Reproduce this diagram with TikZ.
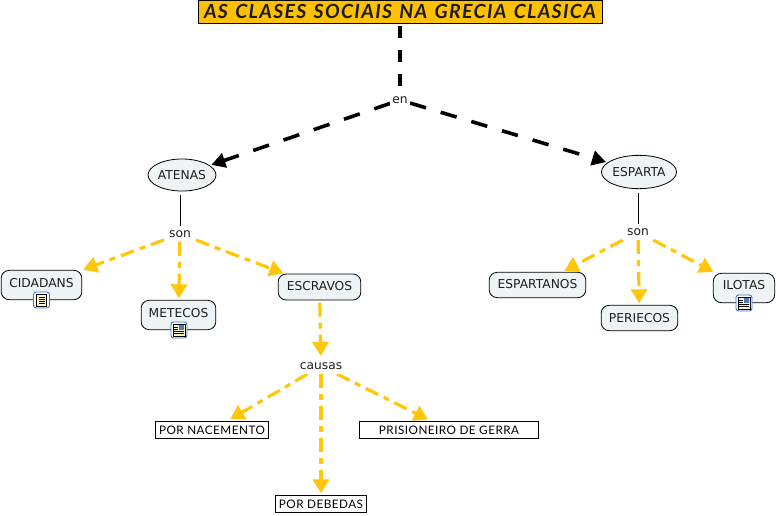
\documentclass[tikz,border=0pt]{standalone}
\usepackage{fontspec}
\setmainfont{DejaVu Sans}
\newfontfamily\comicfont[LetterSpace=4]{Lato}
\newfontfamily\titlefont[LetterSpace=6.8,WordSpace=1.3]{Lato}
\usetikzlibrary{arrows.meta,shapes.geometric,backgrounds}
\definecolor{cmfill}{RGB}{238,243,246}
\definecolor{cmyel}{RGB}{255,198,10}
\definecolor{cmtitle}{RGB}{255,192,0}
\definecolor{cmtext}{RGB}{30,30,30}
\definecolor{cmicon}{RGB}{60,120,205}
\definecolor{cmpage}{RGB}{255,250,195}
\tikzset{
  x=0.75pt,y=-0.75pt,
  every node/.style={font=\fontsize{9.2}{11}\selectfont,text=cmtext,inner sep=0pt,outer sep=0pt},
  ovalbox/.style={ellipse,draw=black,fill=cmfill,line width=0.6pt},
  roundbox/.style={rectangle,rounded corners=6pt,draw=black,fill=cmfill,line width=0.6pt},
  plainbox/.style={rectangle,draw=black,fill=white,line width=0.75pt,font=\comicfont\fontsize{8.8}{10}\selectfont,text=black},
  linklabel/.style={fill=white,minimum width=24pt,minimum height=12pt},
  linkblack/.style={draw=black,line width=2.7pt,dash pattern=on 12.5pt off 11.5pt,-{Triangle[length=10.5pt,width=11pt]},shorten >=1.5pt},
  linkyel/.style={draw=cmyel,line width=2.4pt,dash pattern=on 10.5pt off 4.5pt on 4.5pt off 4.5pt,-{Triangle[length=10.5pt,width=12pt]},shorten >=1.5pt},
  backoff/.style={shorten >=#1},
  linkthin/.style={draw=black,line width=0.6pt}
}
\newcommand{\docicon}[1]{%
  \begin{scope}[shift={#1}]
    \draw[cmicon,fill=white,line width=0.7pt,rounded corners=2pt] (-8,-8) rectangle (8,8);
    \draw[black,fill=cmpage,line width=0.5pt] (-5,-6) rectangle (5,6);
    \foreach \yy in {-3,-1,1,3}{\draw[black,line width=0.4pt] (-3,\yy) -- (3,\yy);}
  \end{scope}}
\newcommand{\imgicon}[1]{%
  \begin{scope}[shift={#1}]
    \draw[cmicon,fill=white,line width=0.7pt,rounded corners=2pt] (-8,-8) rectangle (8,8);
    \draw[black,fill=cmpage,line width=0.5pt] (-6,-6) rectangle (6,6);
    \fill[cmicon!70!gray] (0,-5) rectangle (5,0);
    \foreach \yy in {-3,-1}{\draw[black,line width=0.4pt] (-5,\yy) -- (-1,\yy);}
    \foreach \yy in {1.5,3.5}{\draw[black,line width=0.4pt] (-5,\yy) -- (5,\yy);}
  \end{scope}}
\begin{document}
\begin{tikzpicture}
\useasboundingbox (0,0) rectangle (776,515);
% nodes
\node[rectangle,draw=black,fill=cmtitle,line width=0.75pt,minimum width=303pt,minimum height=17pt,text height=12pt,text depth=1.6pt,
      font=\titlefont\bfseries\itshape\fontsize{14.6}{16}\selectfont,text=cmtext!90!black] (title) at (400,12) {AS CLASES SOCIAIS NA GRECIA CLASICA};
\node[fill=white,minimum width=15pt,minimum height=12pt] (en) at (400,100) {en};
\node[ovalbox,minimum width=48pt,minimum height=24pt] (atenas) at (182,175) {ATENAS};
\node[ovalbox,minimum width=54pt,minimum height=25pt] (esparta) at (639,172) {ESPARTA};
\node[linklabel] (sona) at (180,234) {son};
\node[linklabel] (sonb) at (638,232) {son};
\node[roundbox,minimum width=60.5pt,minimum height=22pt,text depth=3.6pt,text height=7pt] (cid) at (41.5,285) {CIDADANS};
\node[roundbox,minimum width=56pt,minimum height=22pt,text depth=3.6pt,text height=7pt] (met) at (178.5,315) {METECOS};
\node[roundbox,minimum width=62pt,minimum height=19.5pt,text depth=1.5pt,text height=7pt] (esc) at (319.5,287) {ESCRAVOS};
\node[roundbox,minimum width=72.5pt,minimum height=19pt,text depth=1.5pt,text height=7pt] (espa) at (537.5,285) {ESPARTANOS};
\node[roundbox,minimum width=57.5pt,minimum height=19pt] (per) at (639.5,318) {PERIECOS};
\node[roundbox,minimum width=46pt,minimum height=22pt,text depth=5pt,text height=7pt] (ilo) at (744,288) {ILOTAS};
\node[fill=white,minimum width=42pt,minimum height=12pt] (causas) at (321,366) {causas};
\node[plainbox,minimum width=84.5pt,minimum height=13pt] (nac) at (212,430) {POR NACEMENTO};
\node[plainbox,minimum width=134.5pt,minimum height=13pt] (pri) at (449,430) {PRISIONEIRO DE GERRA};
\node[plainbox,minimum width=68.5pt,minimum height=13pt] (deb) at (321,504) {POR DEBEDAS};
% connectors
\begin{pgfonlayer}{background}
\draw[draw=black,line width=2.7pt,dash pattern=on 9pt off 9pt,shorten <=2.2pt] (title) -- (en);
\draw[linkblack] (en) -- (atenas);
\draw[linkblack] (en) -- (esparta);
\draw[linkthin,shorten <=3pt] (atenas.south -| sona) -- (sona);
\draw[linkthin,shorten <=3pt] (esparta.south -| sonb) -- (sonb);
\draw[linkyel] (sona) -- (cid);
\draw[linkyel] (sona) -- (met);
\draw[linkyel] (sona) -- (esc);
\draw[linkyel,backoff=2.5pt] (sonb) -- (espa);
\draw[linkyel] (sonb) -- (per);
\draw[linkyel,backoff=2.5pt] (sonb) -- (ilo);
\draw[linkyel,shorten <=2pt] (esc) -- (causas);
\draw[linkyel,backoff=3pt] (causas) -- (nac);
\draw[linkyel,backoff=3pt] (causas) -- (pri);
\draw[linkyel] (causas) -- (deb);
\end{pgfonlayer}
% icons
\docicon{(41.5,300)}
\imgicon{(179,330)}
\imgicon{(744,303)}
\end{tikzpicture}
\end{document}
